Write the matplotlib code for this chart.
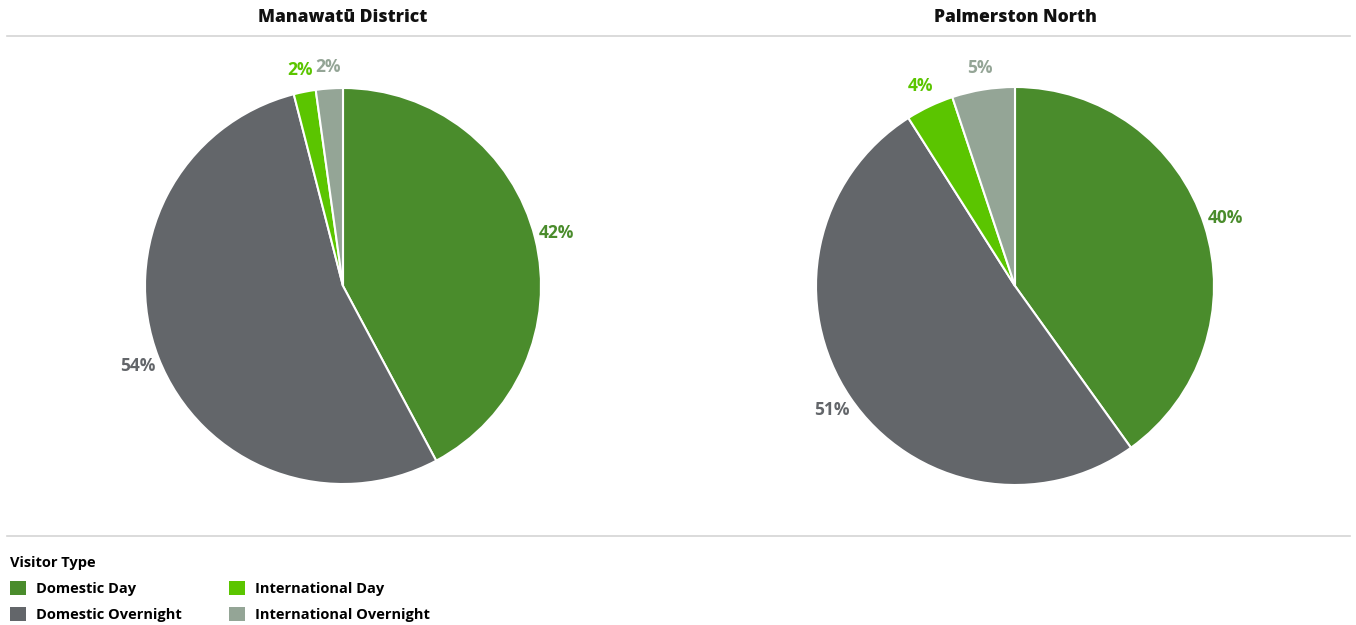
import matplotlib
matplotlib.use("Agg")
import matplotlib.pyplot as plt
from matplotlib.lines import Line2D

plt.rcParams['font.family'] = ['Open Sans', 'DejaVu Sans']

categories = ['Domestic Day', 'Domestic Overnight', 'International Day', 'International Overnight']
colors = ['#4a8c2c', '#63666a', '#5bc500', '#94a596']
regions = ['Manawatū District', 'Palmerston North']
manawatu = [42.2, 53.8, 1.8, 2.2]
palmerston = [40.1, 50.9, 3.9, 5.1]

W, H = 1356, 625
fig = plt.figure(figsize=(W / 100, H / 100), dpi=100)

# pie axes in pixel coords: (left, top, size)
boxes = [(145, 88, 396), (816, 87, 398)]
wedges_all = []
for name, vals, (l, t, s) in zip(regions, [manawatu, palmerston], boxes):
    ax = fig.add_axes([l / W, 1 - (t + s) / H, s / W, s / H])
    wedges, texts, autotexts = ax.pie(
        vals, colors=colors, startangle=90, counterclock=False,
        autopct=lambda p: '{:.0f}%'.format(p), pctdistance=1.11,
        wedgeprops=dict(edgecolor='white', linewidth=1.5))
    for at, c in zip(autotexts, colors):
        at.set_color(c)
        at.set_fontweight('bold')
        at.set_fontsize(12.5)
    ax.set_xlim(-1, 1)
    ax.set_ylim(-1, 1)
    ax.set_aspect('equal')
    wedges_all = wedges
    cx = (l + s / 2) / W
    fig.text(cx, 1 - 17 / H, name, ha='center', va='center',
             fontsize=12.6, fontweight='heavy', color='#111111')

# separator lines
for y in [36, 536]:
    fig.add_artist(Line2D([7 / W, 1350 / W], [1 - y / H, 1 - y / H],
                          color='#d4d4d4', linewidth=1.2))

leg = fig.legend(wedges_all, categories, ncol=2, loc='upper left',
                 bbox_to_anchor=(0.0, 1 - 546 / H), frameon=False,
                 title='Visitor Type', alignment='left',
                 prop=dict(weight='bold', size=10.5),
                 handlelength=1.1, handleheight=1.1, handletextpad=0.7,
                 columnspacing=3.2, labelspacing=0.75, borderaxespad=0.3)
leg.get_title().set_fontweight('bold')
leg.get_title().set_fontsize(10.5)
leg._legend_box.sep = 8
for h in leg.legend_handles:
    h.set_edgecolor('none')

fig.savefig('out.png', dpi=100)
